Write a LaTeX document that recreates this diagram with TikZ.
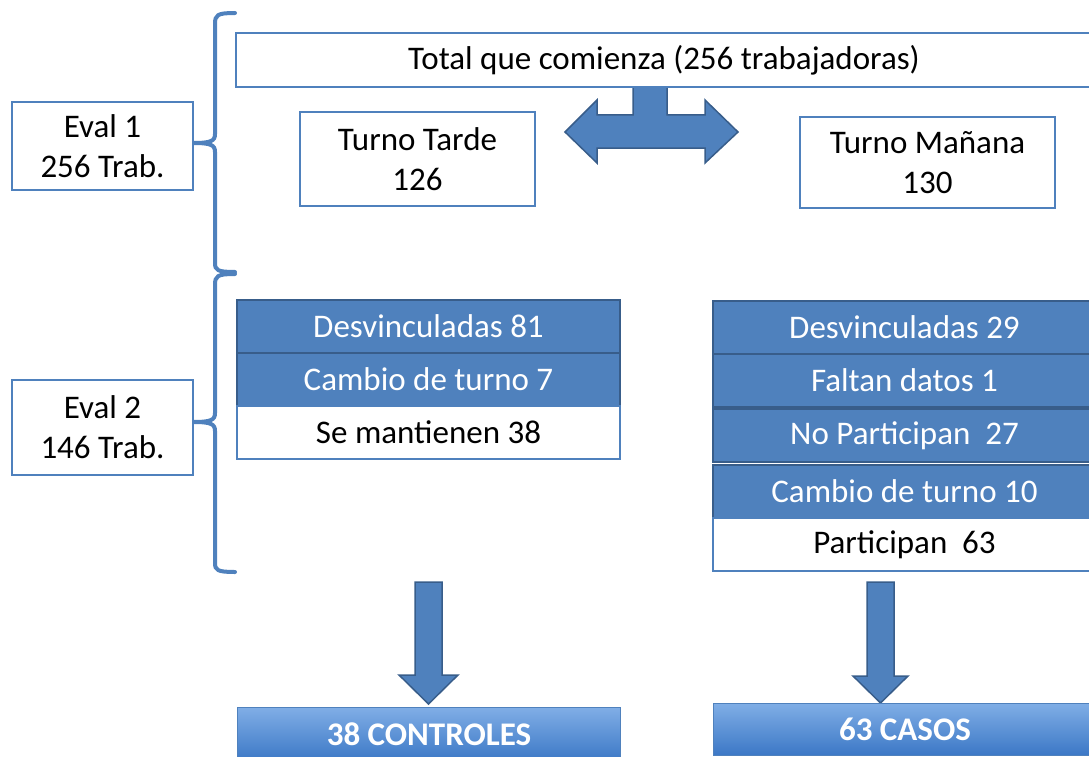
\documentclass[tikz,border=0pt]{standalone}
\usepackage{fontspec}
\setmainfont{Carlito}
\usepackage{tikz}
\usetikzlibrary{positioning}
\definecolor{ppblue}{HTML}{4F81BD}
\definecolor{ppdark}{HTML}{385D8A}
\definecolor{pplight}{HTML}{80AEE6}
\definecolor{ppmid}{HTML}{3C78C6}

\begin{document}
\begin{tikzpicture}[x=1pt, y=-1pt, node distance=0pt,
  font=\fontsize{33}{40}\selectfont]

\tikzstyle{whitebox}=[align=center, draw=ppblue, line width=2.5pt, fill=white,
inner sep=0pt, outer sep=0pt]
\tikzstyle{bluerow}=[align=center, draw=ppdark, line width=2pt, fill=ppblue,
text=white, minimum width=383, minimum height=53, inner sep=0pt, outer sep=0pt]
\tikzstyle{lastrow}=[whitebox, minimum width=383, minimum height=53]
\tikzstyle{resultbox}=[align=center, draw=ppblue, line width=1pt, top color=pplight,
bottom color=ppmid, text=white, font=\fontsize{33}{40}\selectfont\bfseries,
minimum width=383, minimum height=53, inner sep=0pt, outer sep=0pt]
\tikzstyle{blockarrow}=[fill=ppblue, draw=ppdark, line width=1.5pt, line join=miter]
\tikzstyle{bracket}=[draw=ppblue, line width=4pt, line cap=round]

\clip (0,0) rectangle (1089,757);

% T shaped double arrow under the top box
\draw[blockarrow] (633,87) -- (633,115) -- (597,115) -- (597,100) -- (565,132)
  -- (597,163) -- (597,148) -- (705,148) -- (705,163) -- (738,132) -- (705,100)
  -- (705,115) -- (667,115) -- (667,87);

\node[whitebox, minimum width=856, minimum height=54] (total) at (664,60)
  {Total que comienza (256 trabajadoras)};
\node[whitebox, minimum width=235, minimum height=94] (tarde) at (417.5,159)
  {Turno Tarde\\126};
\node[whitebox, minimum width=255, minimum height=91] (manana) at (927.5,162.5)
  {Turno Mañana\\130};

\node[whitebox, minimum width=181, minimum height=88] (eval1) at (102.5,146)
  {Eval 1\\256 Trab.};
\node[whitebox, minimum width=181, minimum height=95] (eval2) at (102.5,427.5)
  {Eval 2\\146 Trab.};

% brackets
\draw[bracket] (235,13) .. controls (217,13) and (215,15) .. (215,24) -- (215,134)
  .. controls (215,141) and (211,143) .. (eval1.east |- 0,143)
  .. controls (211,143) and (215,145) .. (215,152) -- (215,263)
  .. controls (215,270) and (217,272) .. (235,272);
\draw[bracket] (235,274) .. controls (217,274) and (215,276) .. (215,285) -- (215,413)
  .. controls (215,420) and (211,422) .. (eval2.east |- 0,422)
  .. controls (211,422) and (215,424) .. (215,431) -- (215,563)
  .. controls (215,570) and (217,572) .. (235,572);

% Turno tarde
\node[bluerow] (desv1) at (428.5,326.5) {Desvinculadas 81};
\node[bluerow, below=of desv1] (cambio1) {Cambio de turno 7};
\node[lastrow, below=of cambio1] (mant) {Se mantienen 38};

% Turno mañana
\node[bluerow] (desv2) at (904.5,327.5) {Desvinculadas 29};
\node[bluerow, below=of desv2] (faltan) {Faltan datos 1};
\node[bluerow, below=2pt of faltan] (nopart) {No Participan\ \ 27};
\node[bluerow, below=3pt of nopart] (cambio2) {Cambio de turno 10};
\node[lastrow, below=of cambio2] (part) {Participan\ \ 63};

% arrows down
\draw[blockarrow] (415,582) -- (442,582) -- (442,675) -- (458,675) -- (428.5,704)
  -- (399,675) -- (415,675) -- cycle;
\draw[blockarrow] (867,582) -- (894,582) -- (894,676) -- (908,676) -- (880.5,703)
  -- (853,676) -- (867,676) -- cycle;

\node[resultbox] (controles) at (429,734) {38 CONTROLES};
\node[resultbox, minimum height=52] (casos) at (905,729) {63 CASOS};
\end{tikzpicture}
\end{document}
